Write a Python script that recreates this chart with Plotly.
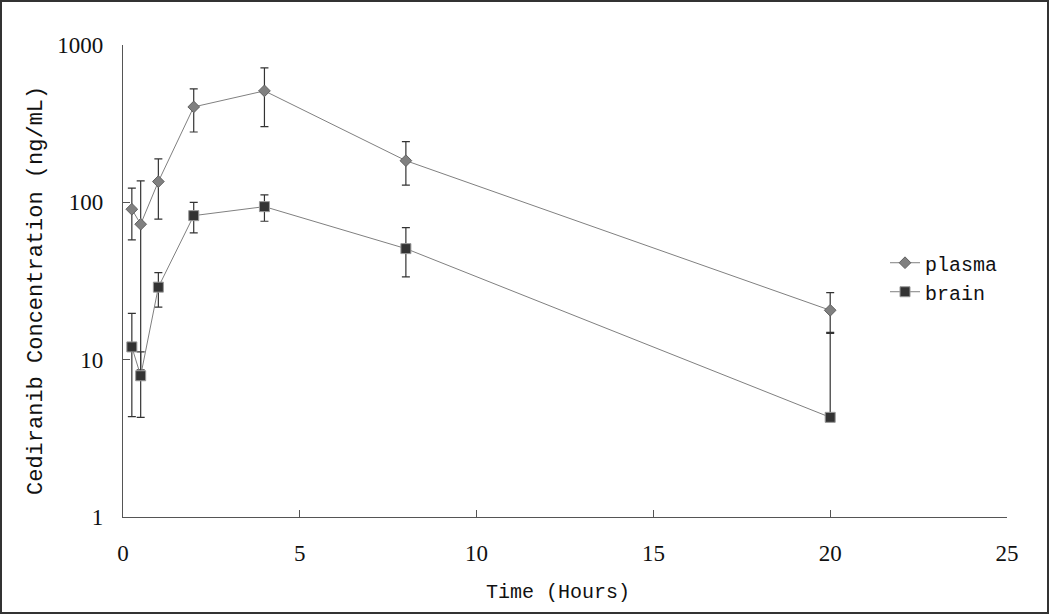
import plotly.graph_objects as go

time_h = [0.25, 0.5, 1, 2, 4, 8, 20]

plasma = [90.4, 72.6, 135.5, 404, 511, 184, 20.6]
plasma_err_up = [32.6, 64.4, 53.5, 122, 204, 59, 6.1]
plasma_err_down = [32.7, 64.0, 57.4, 124, 208, 55.5, 5.9]

brain = [12.05, 7.9, 28.9, 82.3, 93.9, 50.8, 4.3]
brain_err_up = [7.65, 3.3, 6.8, 17.7, 17.6, 18.2, 10.6]
brain_err_down = [7.7, 3.6, 7.3, 18.4, 18.1, 17.2, 0]

x_ticks = [0, 5, 10, 15, 20, 25]
y_ticks = [1, 10, 100, 1000]

x_title = "Time (Hours)"
y_title = "Cediranib Concentration (ng/mL)"

serif = "Liberation Serif, Times New Roman, serif"
mono = "Liberation Mono, Courier New, monospace"

fig = go.Figure()

fig.add_trace(go.Scatter(
    x=time_h, y=plasma, name="plasma", mode="lines+markers",
    line=dict(color="#808080", width=1),
    marker=dict(symbol="diamond", size=9, color="#808080",
                line=dict(color="#606060", width=1)),
    error_y=dict(type="data", symmetric=False, array=plasma_err_up,
                 arrayminus=plasma_err_down, color="#333333",
                 thickness=1.2, width=4),
))

fig.add_trace(go.Scatter(
    x=time_h, y=brain, name="brain", mode="lines+markers",
    line=dict(color="#808080", width=1),
    marker=dict(symbol="square", size=10, color="#333333",
                line=dict(color="#999999", width=1)),
    error_y=dict(type="data", symmetric=False, array=brain_err_up,
                 arrayminus=brain_err_down, color="#333333",
                 thickness=1.2, width=4),
))

fig.update_layout(
    width=1050, height=615,
    margin=dict(l=123, r=43, t=45, b=98),
    paper_bgcolor="white", plot_bgcolor="white",
    showlegend=True,
    legend=dict(x=0.862, y=0.508, xanchor="left", yanchor="middle",
                font=dict(family=mono, size=20, color="#111111"),
                bgcolor="rgba(0,0,0,0)",
                tracegroupgap=4),
    hovermode=False,
)

fig.update_xaxes(
    range=[0, 25], tickvals=x_ticks, ticktext=[str(v) for v in x_ticks],
    ticks="inside", ticklen=7, tickcolor="#555555", tickwidth=1,
    showline=True, linecolor="#555555", linewidth=1.3,
    showgrid=False, zeroline=False,
    tickfont=dict(family=serif, size=23, color="#111111"),
    ticklabelstandoff=15,
)

fig.update_yaxes(
    type="log", range=[0, 3], tickvals=y_ticks, ticktext=[str(v) for v in y_ticks],
    ticks="inside", ticklen=7, tickcolor="#555555", tickwidth=1,
    showline=True, linecolor="#555555", linewidth=1.3,
    showgrid=False, zeroline=False,
    tickfont=dict(family=serif, size=23, color="#111111"),
    ticklabelstandoff=14,
)

# axis titles as annotations (positioned like the reference)
fig.add_annotation(text=x_title, xref="paper", yref="paper",
                   x=(558 - 123) / 884, y=(517 - 592) / 472,
                   xanchor="center", yanchor="middle", showarrow=False,
                   font=dict(family=mono, size=20, color="#111111"))
fig.add_annotation(text=y_title, xref="paper", yref="paper",
                   x=(36 - 123) / 884, y=(517 - 291) / 472, textangle=-90,
                   xanchor="center", yanchor="middle", showarrow=False,
                   font=dict(family=mono, size=22, color="#111111"))

# outer frame around the whole picture
fig.add_shape(type="rect", xref="paper", yref="paper",
              x0=(1 - 123) / 884, x1=(1048 - 123) / 884,
              y0=(517 - 613) / 472, y1=(517 - 1) / 472,
              line=dict(color="#333333", width=2), layer="above")

fig.write_html("out.html", config={"displayModeBar": False},
               post_script="document.body.style.margin='0';document.body.style.overflow='hidden';")
